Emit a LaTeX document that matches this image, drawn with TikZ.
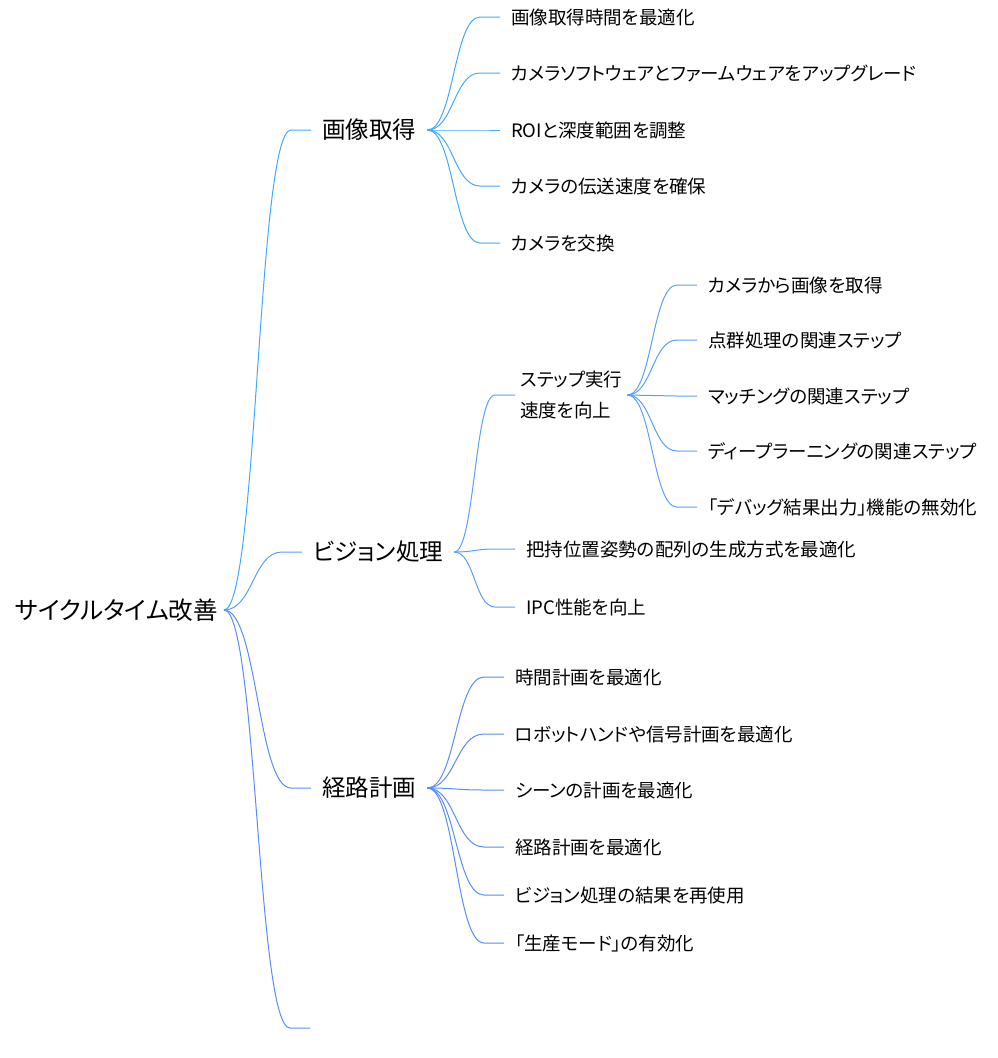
\documentclass[tikz,border=0pt]{standalone}
\usepackage{fontspec}
\setmainfont{Noto Sans CJK JP}[RawFeature={+palt}]
\usetikzlibrary{calc}

\definecolor{acqblue}{RGB}{64,170,255}
\definecolor{visblue}{RGB}{90,160,250}
\definecolor{pathblue}{RGB}{90,140,245}

\tikzset{
  rootnode/.style={anchor=east, inner xsep=6pt, font=\fontsize{24.5}{29}\selectfont},
  topicnode/.style={anchor=west, inner xsep=11pt, text height=20.7pt, text depth=2.8pt, font=\fontsize{23.5}{28}\selectfont},
  leafnode/.style={anchor=west, inner xsep=11pt, text height=16.3pt, text depth=2.2pt, font=\fontsize{18.5}{22}\selectfont},
  link/.style={line width=1pt}
}

% curved connector: S-curve, then a short straight run into the child
\newcommand{\branch}[3][]{%
  \draw[link,#1] let \p1=(#2.east), \p2=([xshift=-20pt]#3.west) in
    (\p1) .. controls ({0.5*\x1+0.5*\x2},\y1) and ({0.5*\x1+0.5*\x2},\y2) .. (\p2) -- (#3.west);}

\begin{document}
\begin{tikzpicture}[x=1pt,y=-1pt]

    \useasboundingbox (0,0) rectangle (998,1058);

    % Root topic
    \node[rootnode] (cycle) at (224,610) {サイクルタイム改善};

    % Main topics
    \node[topicnode] (acq) at (311,130) {画像取得};
    \node[topicnode] (vision) at (302,552) {ビジョン処理};
    \node[topicnode] (path) at (311,788) {経路計画};
    \node[anchor=west, inner sep=0pt] (blank) at (310,1028) {};

    % Image acquisition
    \node[leafnode] (acq1) at (500,17) {画像取得時間を最適化};
    \node[leafnode] (acq2) at (500,73) {カメラソフトウェアとファームウェアをアップグレード};
    \node[leafnode] (acq3) at (500,130) {ROIと深度範囲を調整};
    \node[leafnode] (acq4) at (500,186) {カメラの伝送速度を確保};
    \node[leafnode] (acq5) at (500,243) {カメラを交換};

    % Vision processing
    \node[anchor=west, inner xsep=5pt, align=left, font=\fontsize{18.5}{31}\selectfont] (step) at (515,395) {ステップ実行\\速度を向上};
    \node[leafnode] (grasp) at (515,549) {把持位置姿勢の配列の生成方式を最適化};
    \node[leafnode] (ipc) at (515,607) {IPC性能を向上};

    % Steps to speed up
    \node[leafnode] (step1) at (697,285) {カメラから画像を取得};
    \node[leafnode] (step2) at (697,340) {点群処理の関連ステップ};
    \node[leafnode] (step3) at (697,396) {マッチングの関連ステップ};
    \node[leafnode] (step4) at (697,451) {ディープラーニングの関連ステップ};
    \node[leafnode] (step5) at (697,507) {「デバッグ結果出力」機能の無効化};

    % Path planning
    \node[leafnode] (path1) at (504,677) {時間計画を最適化};
    \node[leafnode] (path2) at (504,734) {ロボットハンドや信号計画を最適化};
    \node[leafnode] (path3) at (504,790) {シーンの計画を最適化};
    \node[leafnode] (path4) at (504,847) {経路計画を最適化};
    \node[leafnode] (path5) at (504,895) {ビジョン処理の結果を再使用};
    \node[leafnode] (path6) at (504,943) {「生産モード」の有効化};

    % Connectors from the root
    \branch[acqblue]{cycle}{acq}
    \branch[visblue]{cycle}{vision}
    \branch[pathblue]{cycle}{path}
    \branch[pathblue]{cycle}{blank}

    % Connectors of each topic
    \foreach \leaf in {acq1,acq2,acq3,acq4,acq5}
      \branch[acqblue]{acq}{\leaf};
    \foreach \leaf in {step,grasp,ipc}
      \branch[visblue]{vision}{\leaf};
    \foreach \leaf in {step1,step2,step3,step4,step5}
      \branch[visblue]{step}{\leaf};
    \foreach \leaf in {path1,path2,path3,path4,path5,path6}
      \branch[pathblue]{path}{\leaf};

\end{tikzpicture}
\end{document}
